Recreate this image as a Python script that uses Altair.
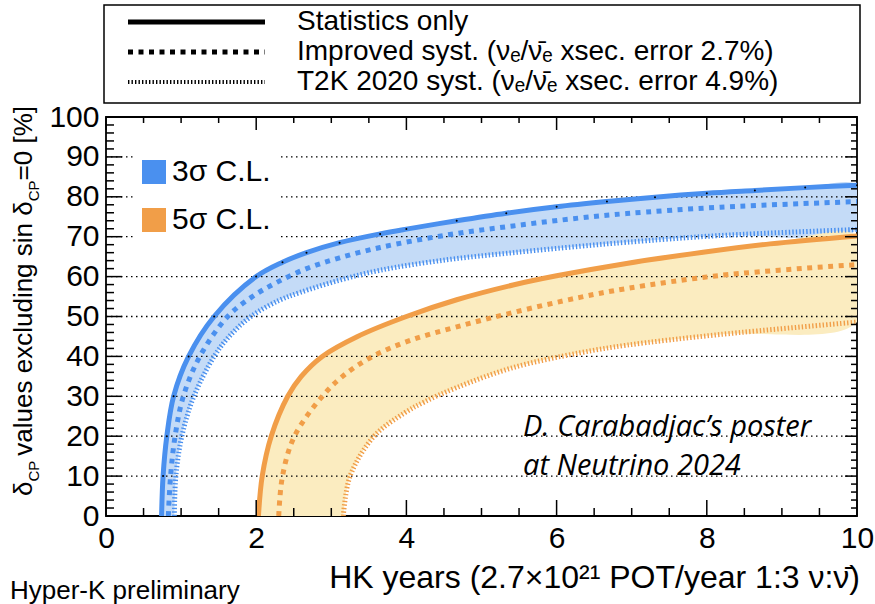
import altair as alt
import pandas as pd

# ---- sensitivity curves: fraction of delta_CP values excluding sin(delta_CP)=0 ----
# 3 sigma C.L. (blue)
b_stat_x = [0.74, 0.76, 0.81, 0.90, 1.10, 1.44, 2.00, 2.35, 2.67, 3.11, 3.65, 4.00, 4.67, 5.33, 6.00, 6.67, 7.31, 8.00, 8.64, 9.31, 10.0]
b_stat_y = [0, 10, 20, 30, 40, 50, 60, 63.6, 66.0, 68.5, 70.7, 71.9, 74.0, 75.9, 77.5, 78.8, 79.9, 80.9, 81.6, 82.3, 82.9]
b_imp_x = [0.83, 0.86, 0.92, 1.03, 1.25, 1.62, 1.95, 2.27, 2.67, 3.11, 3.65, 4.53, 5.42, 6.31, 6.93, 8.18, 10.0]
b_imp_y = [0, 10, 20, 30, 40, 50, 55.0, 58.5, 62.0, 64.7, 67.3, 70.4, 72.7, 74.7, 75.8, 77.4, 78.8]
b_t2k_x = [0.91, 0.93, 1.01, 1.17, 1.44, 1.64, 1.93, 2.30, 2.58, 3.11, 3.65, 4.53, 5.42, 6.31, 6.93, 8.18, 10.0]
b_t2k_y = [0, 10, 20, 30, 40, 45, 50, 54.0, 56.0, 59.1, 61.6, 64.2, 66.0, 67.6, 68.6, 70.3, 71.8]

# 5 sigma C.L. (orange)
o_stat_x = [2.03, 2.08, 2.20, 2.42, 2.60, 2.88, 3.35, 4.00, 4.67, 5.42, 6.00, 6.93, 7.95, 8.84, 10.0]
o_stat_y = [0, 10, 20, 30, 35, 40, 45.0, 50.0, 54.2, 57.9, 60.2, 63.3, 66.1, 68.2, 70.2]
o_imp_x = [2.30, 2.35, 2.51, 2.88, 3.15, 3.55, 4.05, 4.67, 5.42, 6.31, 6.93, 8.18, 10.0]
o_imp_y = [0, 10, 20, 30, 35, 40, 44.0, 47.4, 51.0, 54.8, 57.0, 60.3, 63.0]
o_t2k_x = [3.16, 3.25, 3.57, 3.98, 4.24, 4.67, 5.42, 6.31, 6.93, 8.18, 10.0]
o_t2k_y = [0, 10, 20, 25.9, 28.6, 32.2, 37.2, 40.9, 42.8, 45.5, 48.6]

# axis ticks and grid
x_major = [0, 2, 4, 6, 8, 10]
x_minor = [0.5, 1, 1.5, 2.5, 3, 3.5, 4.5, 5, 5.5, 6.5, 7, 7.5, 8.5, 9, 9.5]
y_major = [0, 10, 20, 30, 40, 50, 60, 70, 80, 90, 100]
y_minor = [v for v in range(0, 101, 2) if v % 10 != 0]
grid_y = [10, 20, 30, 40, 50, 60, 70, 80, 90]

BLUE = "#4a90ef"
BLUE_FILL = "#c4dbf7"
ORANGE = "#f19e48"
ORANGE_FILL = "#fbecc0"
FONT = "Liberation Sans"
CURVE = "catmull-rom"

W, H = 751, 399

X = alt.X("x:Q", scale=alt.Scale(domain=[0, 10], nice=False, zero=False),
          axis=alt.Axis(values=x_major, ticks=False, domain=False, grid=False, title=None,
                        labelFontSize=30, labelFont=FONT, labelColor="black",
                        labelPadding=7, labelFlush=False, labelOverlap=False))
Y = alt.Y("y:Q", scale=alt.Scale(domain=[0, 100], nice=False, zero=False),
          axis=alt.Axis(values=y_major, ticks=False, domain=False, grid=False, title=None,
                        labelFontSize=30, labelFont=FONT, labelColor="black",
                        labelPadding=7, labelFlush=False, labelOverlap=False))


def curve(xs, ys):
    return pd.DataFrame({"x": xs, "y": ys, "i": list(range(len(xs)))})


def band(ux, uy, lx, ly):
    # closed outline: upper curve forward, lower curve backward
    xs = list(ux) + list(reversed(lx))
    ys = list(uy) + list(reversed(ly))
    return pd.DataFrame({"x": xs, "y": ys, "i": list(range(len(xs)))})


def line_layer(xs, ys, color, dash=None, width=5):
    kw = dict(color=color, strokeWidth=width, clip=True, strokeCap="butt", interpolate=CURVE)
    if dash:
        kw["strokeDash"] = dash
    return alt.Chart(curve(xs, ys)).mark_line(**kw).encode(x=X, y=Y, order="i:Q")


def band_layer(ux, uy, lx, ly, fill):
    return alt.Chart(band(ux, uy, lx, ly)).mark_line(
        fill=fill, strokeOpacity=0, clip=True, interpolate=CURVE
    ).encode(x=X, y=Y, order="i:Q")


def label(text, x, y, size, **kw):
    base = dict(font=FONT, fontSize=size, color="black", align="left", baseline="alphabetic")
    base.update(kw)
    return alt.Chart(pd.DataFrame({"t": [text]})).mark_text(**base).encode(
        x=alt.value(x), y=alt.value(y), text="t:N")


def box(x, x2, y, y2, **kw):
    return alt.Chart(pd.DataFrame({"t": [0]})).mark_rect(**kw).encode(
        x=alt.value(x), x2=alt.value(x2), y=alt.value(y), y2=alt.value(y2))


def sample(y, dash=None, width=5):
    kw = dict(color="black", strokeWidth=width, strokeCap="butt")
    if dash:
        kw["strokeDash"] = dash
    return alt.Chart(pd.DataFrame({"t": [0]})).mark_rule(**kw).encode(
        x=alt.value(22), x2=alt.value(159), y=alt.value(y), y2=alt.value(y))


DASH_IMP = [5, 5.5]
DASH_T2K = [1.4, 2.1]

layers = []

# filled bands between statistics-only and T2K 2020 systematics curves
layers.append(band_layer(b_stat_x, b_stat_y, b_t2k_x, b_t2k_y, BLUE_FILL))
layers.append(band_layer(o_stat_x, o_stat_y, o_t2k_x, o_t2k_y, ORANGE_FILL))

# dotted horizontal grid
layers.append(alt.Chart(pd.DataFrame({"y": grid_y})).mark_rule(
    color="black", strokeWidth=1.3, strokeDash=[1.5, 3.5]).encode(
    y=Y, x=alt.value(0), x2=alt.value(W)))

# C.L. legend inside the frame
layers.append(box(27, 173, 28, 128, fill="white"))
layers.append(box(36, 60, 43, 67, fill=BLUE))
layers.append(box(36, 60, 91, 115, fill=ORANGE))
layers.append(label("3σ C.L.", 66, 55, 30, baseline="middle"))
layers.append(label("5σ C.L.", 66, 103, 30, baseline="middle"))

# curves
layers.append(line_layer(b_t2k_x, b_t2k_y, BLUE, DASH_T2K))
layers.append(line_layer(b_imp_x, b_imp_y, BLUE, DASH_IMP))
layers.append(line_layer(b_stat_x, b_stat_y, BLUE))
layers.append(alt.Chart(curve(b_stat_x[1:], b_stat_y[1:])).mark_circle(
    color="black", size=4, opacity=1).encode(x=X, y=Y))
layers.append(line_layer(o_t2k_x, o_t2k_y, ORANGE, DASH_T2K))
layers.append(line_layer(o_imp_x, o_imp_y, ORANGE, DASH_IMP))
layers.append(line_layer(o_stat_x, o_stat_y, ORANGE))

# inward ticks on all four sides
tick = dict(color="black", strokeWidth=1.5)
layers.append(alt.Chart(pd.DataFrame({"x": x_major})).mark_rule(**tick).encode(
    x=X, y=alt.value(H), y2=alt.value(H - 16)))
layers.append(alt.Chart(pd.DataFrame({"x": x_minor})).mark_rule(**tick).encode(
    x=X, y=alt.value(H), y2=alt.value(H - 8)))
layers.append(alt.Chart(pd.DataFrame({"x": x_major})).mark_rule(**tick).encode(
    x=X, y=alt.value(0), y2=alt.value(13)))
layers.append(alt.Chart(pd.DataFrame({"x": x_minor})).mark_rule(**tick).encode(
    x=X, y=alt.value(0), y2=alt.value(6)))
layers.append(alt.Chart(pd.DataFrame({"y": y_major})).mark_rule(**tick).encode(
    y=Y, x=alt.value(0), x2=alt.value(16)))
layers.append(alt.Chart(pd.DataFrame({"y": y_minor})).mark_rule(**tick).encode(
    y=Y, x=alt.value(0), x2=alt.value(8)))
layers.append(alt.Chart(pd.DataFrame({"y": y_major})).mark_rule(**tick).encode(
    y=Y, x=alt.value(W), x2=alt.value(W - 12)))
layers.append(alt.Chart(pd.DataFrame({"y": y_minor})).mark_rule(**tick).encode(
    y=Y, x=alt.value(W), x2=alt.value(W - 6)))

# systematics legend box above the frame
layers.append(box(-2, 754, -112, -14, fill="white", stroke="black", strokeWidth=1.5))
layers.append(sample(-95))
layers.append(sample(-65, DASH_IMP))
layers.append(sample(-35, DASH_T2K, 4))
LEG = 28
layers.append(label("Statistics only", 191, -95, LEG, baseline="middle"))
layers.append(label("Improved syst. (νₑ/ν̄ₑ xsec. error 2.7%)", 191, -65, LEG, baseline="middle"))
layers.append(label("T2K 2020 syst. (νₑ/ν̄ₑ xsec. error 4.9%)", 191, -35, LEG, baseline="middle"))

# x axis title
layers.append(label("HK years (2.7×10²¹ POT/year 1:3 ν:ν̄)", 754, 471, 32, align="right"))

# rotated y title with CP subscripts: the chain hangs down from the top end,
# the leading delta_CP sits on the bottom end
widths = {"δ": 556, "C": 722, "P": 667, " ": 278, "v": 500, "a": 556, "l": 222, "u": 556,
          "e": 556, "s": 500, "x": 500, "c": 500, "d": 556, "i": 222, "n": 556, "g": 556,
          "=": 584, "0": 556, "[": 278, "%": 889, "]": 278}
MAIN, SUB = 26, 15
MAIN_X, SUB_X = -74, -67


def wid(txt, fs):
    return sum(widths[ch] for ch in txt) * fs / 1000.0


top = -11
layers.append(label("=0 [%]", MAIN_X, top, MAIN, angle=270, align="right"))
pos = top + wid("=0 [%]", MAIN)
layers.append(label("CP", SUB_X, pos, SUB, angle=270, align="right"))
pos += wid("CP", SUB)
layers.append(label("δ", MAIN_X, pos, MAIN, angle=270, align="right"))
pos += wid("δ ", MAIN)
layers.append(label("values excluding sin", MAIN_X, pos, MAIN, angle=270, align="right"))

bottom = 379
layers.append(label("δ", MAIN_X, bottom, MAIN, angle=270))
layers.append(label("CP", SUB_X, bottom - wid("δ", MAIN), SUB, angle=270))

layers.append(label("Hyper-K preliminary", -96, 482, 26))
layers.append(label("D. Carabadjac’s poster", 417, 319, 29, font="Open Sans", fontStyle="italic"))
layers.append(label("at Neutrino 2024", 417, 358, 29, font="Open Sans", fontStyle="italic"))

chart = alt.layer(*layers).properties(
    width=W, height=H,
    autosize=alt.AutoSizeParams(type="none"),
    padding={"left": 106, "top": 117, "right": 18, "bottom": 88},
).configure_view(stroke="black", strokeWidth=1.8)

chart.save("out.html", embed_options={"renderer": "svg", "actions": False})
